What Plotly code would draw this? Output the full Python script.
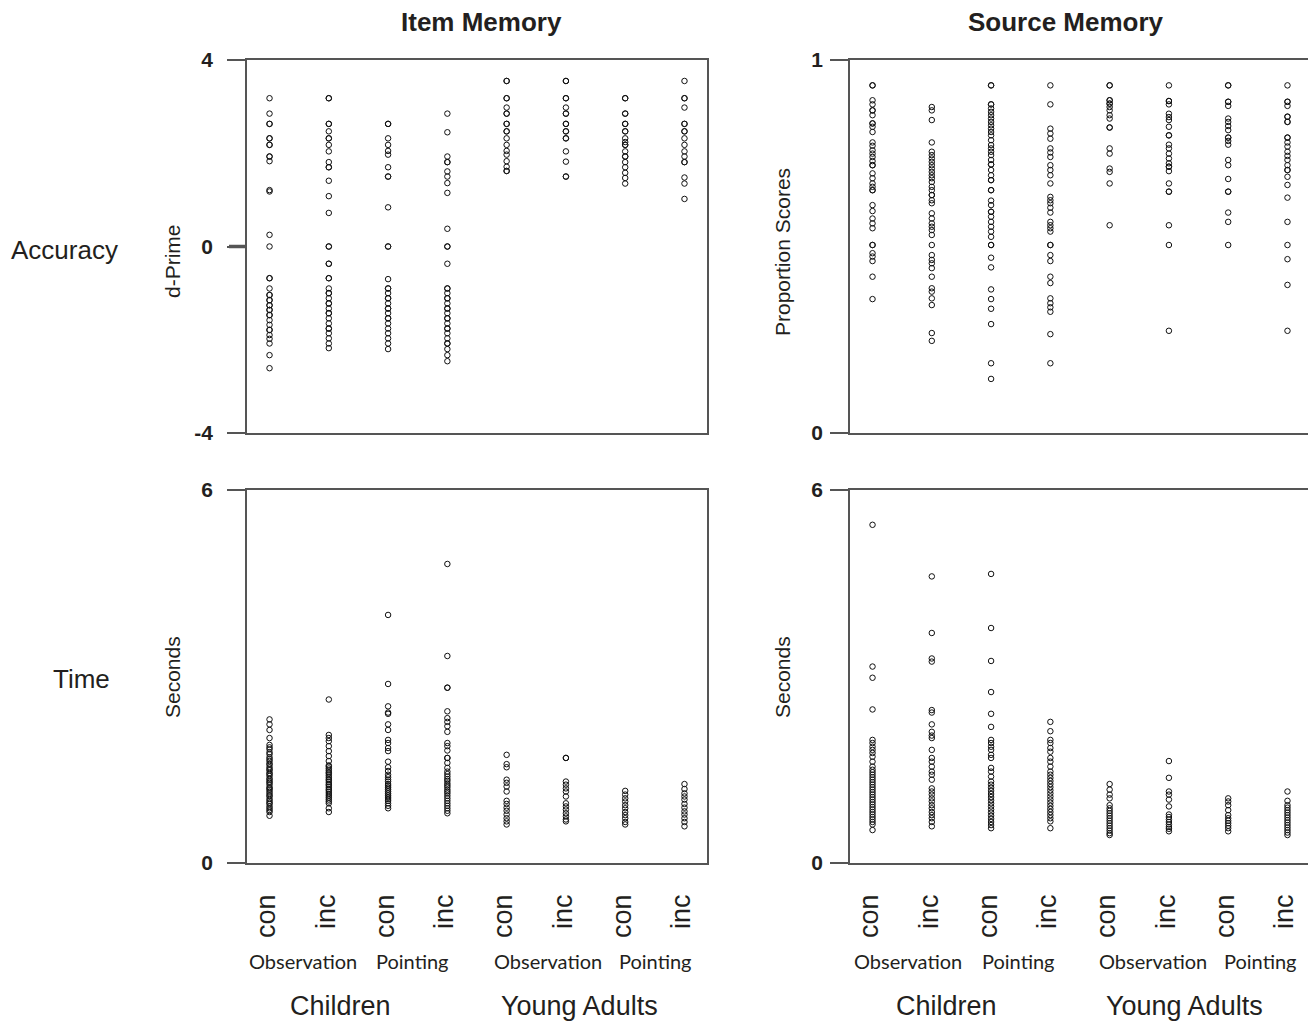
import plotly.graph_objects as go

# ---------------- categories / labels ----------------
positions = [1, 2, 3, 4, 5, 6, 7, 8]
cond_labels = ["con", "inc", "con", "inc", "con", "inc", "con", "inc"]
task_labels = ["Observation", "Pointing", "Observation", "Pointing"]
group_labels = ["Children", "Young Adults"]
panel_titles = ["Item Memory", "Source Memory"]
row_labels = ["Accuracy", "Time"]

# ---------------- Item memory: d-prime ----------------
dp_ch_obs_con = [3.18, 2.85, 2.63, 2.63, 2.32, 2.32, 2.18, 2.18, 1.93, 1.93, 1.83, 1.21, 1.18, 0.25, 0.00,
                 -0.68, -0.68, -0.90, -1.04, -1.04, -1.15, -1.15, -1.26, -1.26, -1.36, -1.36, -1.47, -1.47,
                 -1.58, -1.68, -1.79, -1.79, -1.90, -1.98, -2.08, -2.33, -2.61]
dp_ch_obs_inc = [3.18, 3.18, 2.63, 2.63, 2.47, 2.32, 2.32, 2.18, 2.04, 1.81, 1.70, 1.70, 1.41, 1.08, 0.72,
                 0.00, 0.00, -0.37, -0.37, -0.68, -0.68, -0.90, -1.00, -1.00, -1.11, -1.22, -1.22, -1.33,
                 -1.43, -1.43, -1.54, -1.65, -1.76, -1.76, -1.86, -1.97, -2.08, -2.18]
dp_ch_pt_con = [2.63, 2.63, 2.32, 2.18, 2.05, 1.97, 1.70, 1.50, 1.50, 0.84, 0.00, 0.00, -0.70, -0.90, -0.90,
                -1.00, -1.11, -1.11, -1.22, -1.33, -1.33, -1.43, -1.54, -1.54, -1.65, -1.76, -1.86, -1.97,
                -2.08, -2.20]
dp_ch_pt_inc = [2.85, 2.45, 1.93, 1.81, 1.81, 1.61, 1.50, 1.36, 1.15, 0.38, 0.00, 0.00, -0.37, -0.90, -0.90,
                -1.00, -1.11, -1.11, -1.22, -1.33, -1.33, -1.43, -1.54, -1.54, -1.65, -1.76, -1.76, -1.86,
                -1.97, -2.08, -2.08, -2.20, -2.33, -2.46]
dp_ya_obs_con = [3.55, 3.55, 3.18, 3.18, 2.98, 2.85, 2.85, 2.63, 2.63, 2.47, 2.47, 2.32, 2.18, 2.05, 1.97,
                 1.83, 1.71, 1.62, 1.62]
dp_ya_obs_inc = [3.55, 3.55, 3.18, 3.18, 2.98, 2.85, 2.85, 2.63, 2.63, 2.47, 2.47, 2.32, 2.32, 2.04, 1.82,
                 1.50, 1.50]
dp_ya_pt_con = [3.18, 3.18, 2.85, 2.85, 2.63, 2.63, 2.47, 2.47, 2.32, 2.24, 2.18, 2.18, 2.04, 1.93, 1.93,
                1.81, 1.70, 1.58, 1.47, 1.35]
dp_ya_pt_inc = [3.55, 3.18, 3.18, 2.98, 2.63, 2.63, 2.47, 2.47, 2.32, 2.18, 2.04, 1.93, 1.81, 1.81, 1.48,
                1.35, 1.02]

# ---------------- Source memory: proportion scores ----------------
ps_ch_obs_con = [0.932, 0.932, 0.892, 0.881, 0.865, 0.865, 0.852, 0.830, 0.830, 0.821, 0.807, 0.779, 0.770,
                 0.758, 0.749, 0.740, 0.729, 0.718, 0.718, 0.696, 0.683, 0.669, 0.660, 0.651, 0.651, 0.611,
                 0.595, 0.575, 0.562, 0.549, 0.504, 0.504, 0.482, 0.473, 0.461, 0.419, 0.359]
ps_ch_obs_inc = [0.874, 0.865, 0.839, 0.779, 0.754, 0.745, 0.736, 0.727, 0.718, 0.709, 0.700, 0.691, 0.683,
                 0.673, 0.660, 0.651, 0.638, 0.638, 0.624, 0.616, 0.589, 0.575, 0.562, 0.553, 0.544, 0.531,
                 0.504, 0.477, 0.464, 0.455, 0.442, 0.419, 0.388, 0.379, 0.361, 0.343, 0.268, 0.247]
ps_ch_pt_con = [0.932, 0.932, 0.881, 0.881, 0.870, 0.861, 0.852, 0.843, 0.834, 0.825, 0.816, 0.807, 0.798,
                0.785, 0.772, 0.763, 0.754, 0.745, 0.732, 0.720, 0.720, 0.705, 0.691, 0.678, 0.678, 0.651,
                0.651, 0.623, 0.611, 0.593, 0.593, 0.580, 0.566, 0.553, 0.540, 0.526, 0.504, 0.504, 0.470,
                0.444, 0.385, 0.359, 0.333, 0.292, 0.187, 0.145]
ps_ch_pt_inc = [0.932, 0.881, 0.816, 0.803, 0.789, 0.763, 0.752, 0.740, 0.718, 0.705, 0.691, 0.669, 0.633,
                0.624, 0.616, 0.604, 0.591, 0.566, 0.557, 0.549, 0.540, 0.504, 0.504, 0.477, 0.461, 0.419,
                0.402, 0.361, 0.348, 0.337, 0.325, 0.265, 0.187]
ps_ya_obs_con = [0.932, 0.932, 0.892, 0.892, 0.883, 0.883, 0.874, 0.865, 0.852, 0.843, 0.819, 0.819, 0.763,
                 0.749, 0.709, 0.700, 0.669, 0.557]
ps_ya_obs_inc = [0.932, 0.890, 0.890, 0.881, 0.856, 0.847, 0.839, 0.821, 0.798, 0.798, 0.773, 0.763, 0.749,
                 0.736, 0.723, 0.714, 0.714, 0.702, 0.669, 0.647, 0.647, 0.557, 0.504, 0.274]
ps_ya_pt_con = [0.932, 0.932, 0.888, 0.888, 0.877, 0.843, 0.834, 0.823, 0.812, 0.792, 0.792, 0.783, 0.773,
                0.732, 0.718, 0.681, 0.647, 0.647, 0.591, 0.566, 0.504]
ps_ya_pt_inc = [0.932, 0.888, 0.888, 0.877, 0.848, 0.848, 0.834, 0.834, 0.792, 0.792, 0.779, 0.768, 0.754,
                0.743, 0.732, 0.718, 0.705, 0.705, 0.687, 0.665, 0.631, 0.566, 0.504, 0.466, 0.397, 0.274]

# ---------------- Item memory: time (seconds) ----------------
it_ch_obs_con = [2.31, 2.23, 2.14, 2.01, 1.90, 1.86, 1.83, 1.78, 1.75, 1.70, 1.67, 1.64, 1.60, 1.58, 1.54,
                 1.51, 1.49, 1.45, 1.43, 1.40, 1.36, 1.34, 1.31, 1.29, 1.26, 1.22, 1.20, 1.18, 1.15, 1.12,
                 1.09, 1.07, 1.03, 1.00, 0.97, 0.95, 0.91, 0.88, 0.85, 0.82, 0.76]
it_ch_obs_inc = [2.63, 2.06, 2.01, 1.96, 1.88, 1.80, 1.72, 1.64, 1.57, 1.55, 1.52, 1.49, 1.46, 1.44, 1.41,
                 1.38, 1.35, 1.33, 1.30, 1.27, 1.25, 1.22, 1.19, 1.17, 1.14, 1.11, 1.08, 1.05, 1.02, 0.99,
                 0.96, 0.88, 0.82]
it_ch_pt_con = [3.99, 2.88, 2.52, 2.42, 2.40, 2.23, 2.14, 1.98, 1.93, 1.85, 1.80, 1.63, 1.54, 1.48, 1.42,
                1.38, 1.34, 1.31, 1.27, 1.24, 1.21, 1.18, 1.15, 1.12, 1.09, 1.06, 1.03, 1.00, 0.96, 0.92,
                0.88]
it_ch_pt_inc = [4.81, 3.33, 2.82, 2.82, 2.44, 2.33, 2.27, 2.20, 2.11, 1.93, 1.88, 1.81, 1.69, 1.69, 1.61,
                1.53, 1.47, 1.43, 1.39, 1.35, 1.32, 1.28, 1.25, 1.22, 1.18, 1.15, 1.12, 1.08, 1.04, 1.00,
                0.96, 0.92, 0.88, 0.84, 0.80]
it_ya_obs_con = [1.74, 1.59, 1.54, 1.34, 1.29, 1.23, 1.15, 1.00, 0.95, 0.89, 0.84, 0.78, 0.72, 0.67, 0.62]
it_ya_obs_inc = [1.69, 1.69, 1.31, 1.26, 1.20, 1.15, 1.07, 0.96, 0.91, 0.86, 0.80, 0.75, 0.70, 0.67]
it_ya_pt_con = [1.16, 1.10, 1.04, 0.99, 0.93, 0.88, 0.82, 0.77, 0.72, 0.66, 0.62]
it_ya_pt_inc = [1.27, 1.19, 1.12, 1.07, 1.02, 0.95, 0.89, 0.83, 0.78, 0.72, 0.66, 0.59]

# ---------------- Source memory: time (seconds) ----------------
st_ch_obs_con = [5.44, 3.16, 2.98, 2.47, 1.98, 1.93, 1.87, 1.82, 1.77, 1.71, 1.63, 1.55, 1.50, 1.46, 1.42,
                 1.38, 1.34, 1.30, 1.26, 1.22, 1.18, 1.14, 1.10, 1.06, 1.02, 0.98, 0.94, 0.90, 0.86, 0.82,
                 0.78, 0.74, 0.70, 0.66, 0.62, 0.53]
st_ch_obs_inc = [4.61, 3.70, 3.29, 3.24, 2.46, 2.42, 2.23, 2.11, 2.05, 2.01, 1.82, 1.69, 1.63, 1.55, 1.47,
                 1.42, 1.34, 1.20, 1.15, 1.10, 1.04, 0.99, 0.93, 0.88, 0.82, 0.77, 0.72, 0.66, 0.59]
st_ch_pt_con = [4.65, 3.78, 3.25, 2.75, 2.40, 2.19, 1.98, 1.93, 1.87, 1.82, 1.74, 1.69, 1.53, 1.47, 1.39,
                1.31, 1.26, 1.21, 1.16, 1.11, 1.06, 1.01, 0.96, 0.91, 0.86, 0.81, 0.76, 0.71, 0.66, 0.61,
                0.56]
st_ch_pt_inc = [2.27, 2.12, 1.98, 1.93, 1.85, 1.79, 1.69, 1.63, 1.55, 1.47, 1.42, 1.37, 1.32, 1.27, 1.22,
                1.17, 1.12, 1.07, 1.02, 0.97, 0.92, 0.87, 0.82, 0.77, 0.72, 0.67, 0.56]
st_ya_obs_con = [1.27, 1.18, 1.10, 1.04, 0.93, 0.88, 0.84, 0.80, 0.76, 0.72, 0.68, 0.64, 0.60, 0.56, 0.52,
                 0.48, 0.45]
st_ya_obs_inc = [1.64, 1.37, 1.15, 1.10, 1.02, 0.91, 0.78, 0.74, 0.70, 0.66, 0.62, 0.58, 0.55, 0.51]
st_ya_pt_con = [1.04, 0.99, 0.93, 0.85, 0.77, 0.72, 0.68, 0.64, 0.60, 0.56, 0.51]
st_ya_pt_inc = [1.15, 1.00, 0.93, 0.89, 0.85, 0.81, 0.77, 0.73, 0.69, 0.65, 0.61, 0.57, 0.53, 0.49, 0.45]

panels = [
    ("x", "y", [dp_ch_obs_con, dp_ch_obs_inc, dp_ch_pt_con, dp_ch_pt_inc,
                dp_ya_obs_con, dp_ya_obs_inc, dp_ya_pt_con, dp_ya_pt_inc]),
    ("x2", "y2", [ps_ch_obs_con, ps_ch_obs_inc, ps_ch_pt_con, ps_ch_pt_inc,
                  ps_ya_obs_con, ps_ya_obs_inc, ps_ya_pt_con, ps_ya_pt_inc]),
    ("x3", "y3", [it_ch_obs_con, it_ch_obs_inc, it_ch_pt_con, it_ch_pt_inc,
                  it_ya_obs_con, it_ya_obs_inc, it_ya_pt_con, it_ya_pt_inc]),
    ("x4", "y4", [st_ch_obs_con, st_ch_obs_inc, st_ch_pt_con, st_ch_pt_inc,
                  st_ya_obs_con, st_ya_obs_inc, st_ya_pt_con, st_ya_pt_inc]),
]

# page body has an 8px margin, so the figure is shifted by OFF and sized to fit the window
OFF = 8
W, H = 1316 - OFF, 1022 - OFF
INK = "#231f20"
LINE = "#555555"
SANS = "Liberation Sans, Arial, sans-serif"
HUMAN = "Lato, Open Sans, sans-serif"

fig = go.Figure()
for xa, ya, cols in panels:
    for pos, vals in zip(positions, cols):
        fig.add_trace(go.Scatter(
            x=[pos] * len(vals), y=vals, xaxis=xa, yaxis=ya, mode="markers",
            marker=dict(symbol="circle-open", size=5.5, color="#111111", line=dict(width=1, color="#111111")),
            hoverinfo="skip", showlegend=False))

def px_x(p):
    return (p - OFF) / W

def px_y(p):
    return 1 - (p - OFF) / H

dom_left = [px_x(247), px_x(707)]
dom_right = [px_x(850), px_x(1310)]
dom_top = [px_y(433), px_y(60)]
dom_bot = [px_y(863), px_y(490)]

def xaxis_cfg(domain, anchor, show_labels):
    return dict(domain=domain, anchor=anchor, range=[0.62, 8.38], tickmode="array",
                tickvals=positions, ticktext=cond_labels, tickangle=-90, ticks="",
                showticklabels=show_labels, ticklabelstandoff=19, ticklabelshift=-3,
                automargin=False,
                tickfont=dict(family=SANS, size=27, color=INK),
                showline=True, mirror=True, linecolor=LINE, linewidth=1.5,
                showgrid=False, zeroline=False)

def yaxis_cfg(domain, anchor, rng, vals, standoff):
    return dict(domain=domain, anchor=anchor, range=rng, tickmode="array",
                tickvals=vals, ticktext=[f"<b>{v}</b>" for v in vals],
                ticks="outside", ticklen=18, tickwidth=1.5, tickcolor=LINE,
                ticklabelstandoff=standoff, automargin=False,
                tickfont=dict(family=SANS, size=21, color=INK),
                showline=True, mirror=True, linecolor=LINE, linewidth=1.5,
                showgrid=False, zeroline=False)

fig.update_layout(
    template="none",
    width=W, height=H, margin=dict(l=0, r=0, t=0, b=0, autoexpand=False),
    paper_bgcolor="white", plot_bgcolor="white", showlegend=False,
    xaxis=xaxis_cfg(dom_left, "y", False),
    yaxis=yaxis_cfg(dom_top, "x", [-4, 4], [-4, 0, 4], 10),
    xaxis2=xaxis_cfg(dom_right, "y2", False),
    yaxis2=yaxis_cfg(dom_top, "x2", [0, 1], [0, 1], 3),
    xaxis3=xaxis_cfg(dom_left, "y3", True),
    yaxis3=yaxis_cfg(dom_bot, "x3", [0, 6], [0, 6], 10),
    xaxis4=xaxis_cfg(dom_right, "y4", True),
    yaxis4=yaxis_cfg(dom_bot, "x4", [0, 6], [0, 6], 3),
)

# thicker zero tick on the d-prime axis
fig.add_shape(type="line", xref="paper", yref="y", x0=px_x(229), x1=px_x(247), y0=0, y1=0,
              line=dict(color=LINE, width=3.5))

ann = []
# column titles
ann.append(dict(text=f"<b>{panel_titles[0]}</b>", x=px_x(481), y=px_y(22), font=dict(size=26, family=SANS, color=INK)))
ann.append(dict(text=f"<b>{panel_titles[1]}</b>", x=px_x(1066), y=px_y(22), font=dict(size=26, family=SANS, color=INK)))
# row labels
ann.append(dict(text=row_labels[0], x=px_x(64), y=px_y(250), font=dict(size=26, family=SANS, color=INK)))
ann.append(dict(text=row_labels[1], x=px_x(81), y=px_y(679), font=dict(size=26, family=SANS, color=INK)))
# axis titles
ann.append(dict(text="d-Prime", x=px_x(172), y=px_y(261), textangle=-90, font=dict(size=21, family=SANS, color=INK)))
ann.append(dict(text="Seconds", x=px_x(172), y=px_y(677), textangle=-90, font=dict(size=21, family=SANS, color=INK)))
ann.append(dict(text="Proportion Scores", x=px_x(782), y=px_y(252), textangle=-90, font=dict(size=21, family=SANS, color=INK)))
ann.append(dict(text="Seconds", x=px_x(782), y=px_y(677), textangle=-90, font=dict(size=21, family=SANS, color=INK)))
# task and group labels under bottom panels
task_x_left = [303, 413, 548, 655]
group_x_left = [341, 579]
for offset in (0, 605):
    for lbl, xp in zip(task_labels, task_x_left):
        ann.append(dict(text=lbl, x=px_x(xp + offset), y=px_y(961), font=dict(size=20, family=HUMAN, color=INK)))
    for lbl, xp in zip(group_labels, group_x_left):
        ann.append(dict(text=lbl, x=px_x(xp + offset), y=px_y(1006), font=dict(size=27, family=SANS, color=INK)))

for a in ann:
    a.update(xref="paper", yref="paper", showarrow=False, xanchor="center", yanchor="middle")
fig.update_layout(annotations=ann)

fig.write_html("out.html")
